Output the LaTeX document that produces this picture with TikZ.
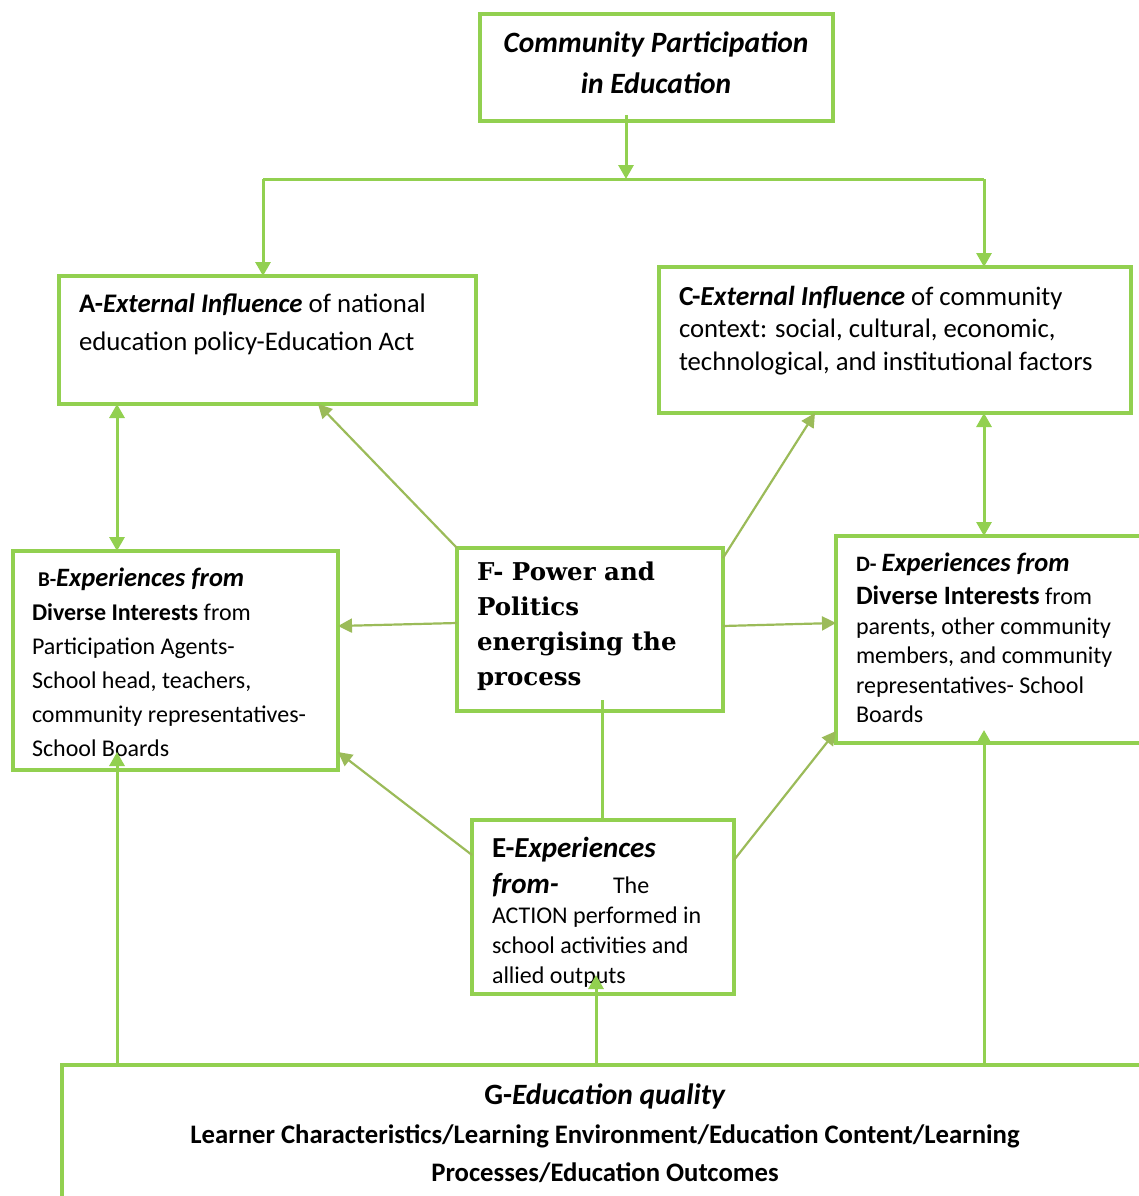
\documentclass[tikz,border=0pt]{standalone}
\usepackage{fontspec}
\setmainfont{Carlito}
\newfontfamily\serifF{DejaVu Serif}
\usetikzlibrary{arrows.meta}
\definecolor{boxgreen}{RGB}{146,208,80}
\definecolor{olive}{RGB}{155,187,89}
\tikzset{
  box/.style={draw=boxgreen, line width=3.4pt, anchor=north west, outer sep=0pt, inner sep=0pt},
  txt/.style={inner sep=0pt, outer sep=0pt, align=left, anchor=north west},
  conn/.style={draw=boxgreen, line width=3pt},
  arr/.style={conn, -{Triangle[width=15pt,length=14pt]}},
  darr/.style={conn, {Triangle[width=15pt,length=14pt]}-{Triangle[width=15pt,length=14pt]}},
  oarr/.style={draw=olive, line width=2.2pt, -{Triangle[width=14pt,length=14pt]}},
}
\begin{document}
\begin{tikzpicture}[x=1pt,y=-1pt]
\useasboundingbox (0,0) rectangle (1139,1196);
\clip (0,0) rectangle (1139,1196);
% boxes
\node[box, minimum width=353pt, minimum height=107pt] (T) at (480,14) {};
\node[box, minimum width=417pt, minimum height=128pt] (A) at (59,276) {};
\node[box, minimum width=472pt, minimum height=146pt] (C) at (659,267) {};
\node[box, minimum width=325pt, minimum height=219pt] (B) at (13,551) {};
\node[box, minimum width=266pt, minimum height=163pt] (F) at (457,548) {};
\node[box, minimum width=360pt, minimum height=207pt] (D) at (836,536) {};
\node[box, minimum width=262pt, minimum height=174pt] (E) at (472,820) {};
\node[box, minimum width=1150pt, minimum height=200pt] (G) at (62,1065) {};
% texts
\node[txt, anchor=north, align=center, font=\fontsize{29.5}{41}\selectfont\bfseries\itshape] (tT) at (656,32) {Community Participation\\in Education};
\node[txt, font=\fontsize{26.8}{38}\selectfont] (tA) at (79,293.5) {\textbf{A-\textit{External Influence}} of national\\education policy-Education Act};
\node[txt, font=\fontsize{26.7}{32.5}\selectfont] (tC) at (679,286) {{\fontsize{27.5}{32.5}\selectfont\textbf{C-\textit{External Influence}}} of community\\context: social, cultural, economic,\\technological, and institutional factors};
\node[txt, font=\fontsize{24}{34}\selectfont] (tB) at (32,568) {\hspace*{6pt}{\fontsize{21}{34}\selectfont\textbf{B-}}{\fontsize{26.5}{34}\selectfont\textbf{\textit{Experiences from}}}\\\textbf{Diverse Interests} from\\Participation Agents-\\School head, teachers,\\community representatives-\\School Boards};
\node[txt, font=\fontsize{24}{29.5}\selectfont] (tD) at (856,553) {{\fontsize{22}{29.5}\selectfont\textbf{D-} }{\fontsize{26.5}{29.5}\selectfont\textbf{\textit{Experiences from}}}\\[3.5pt]{\fontsize{26.5}{29.5}\selectfont\textbf{Diverse Interests}} from\\parents, other community\\members, and community\\representatives- School\\Boards};
\node[txt, font=\fontsize{24.5}{35}\selectfont\serifF\bfseries] (tF) at (477,562) {F- Power and\\Politics\\energising the\\process};
\node[txt, font=\fontsize{24}{30}\selectfont] (tE) at (492,837) {{\fontsize{29}{36}\selectfont\textbf{E-\textit{Experiences}}}\\[6pt]\makebox[121pt][l]{\fontsize{29}{36}\selectfont\textbf{\textit{from-}}}The\\ACTION performed in\\school activities and\\allied outputs};
\node[txt, anchor=north, align=center, font=\fontsize{29.5}{39}\selectfont\bfseries] (tG) at (605,1083.5) {G-\textit{Education quality}\\{\fontsize{26.7}{38}\selectfont Learner Characteristics/Learning Environment/Education Content/Learning}\\[-1pt]{\fontsize{26.7}{38}\selectfont Processes/Education Outcomes}};
% connectors
\coordinate (j) at (626,179);
\coordinate (jl) at (263,179);
\coordinate (jr) at (984,179);
\draw[arr] ([xshift=-30.5pt,yshift=6pt]T.south) -- (j);
\draw[conn] (jl) -- (jr);
\draw[arr] (jl) -- (jl |- A.north);
\draw[arr] (jr) -- (jr |- C.north);
\coordinate (xab) at (117,0);
\draw[darr] (xab |- A.south) -- (xab |- B.north);
\coordinate (xcd) at (984,0);
\draw[darr] (xcd |- C.south) -- (xcd |- D.north);
\draw[oarr] (F.north west) -- ([xshift=259pt]A.south west);
\draw[oarr] ([yshift=-10pt]F.north east) -- ([xshift=156pt]C.south west);
\draw[oarr] ([yshift=-75pt]F.north west) -- ([yshift=-75pt]B.north east);
\draw[oarr] ([yshift=-78pt]F.north east) -- ([yshift=-87pt]D.north west);
\draw[oarr] ([yshift=-35pt]E.north west) -- ([yshift=18pt]B.south east);
\draw[oarr] ([yshift=-40pt]E.north east) -- ([yshift=12pt]D.south west);
\draw[conn] ([xshift=12pt,yshift=11pt]F.south) -- ([xshift=-1pt]E.north);
\coordinate (xgb) at (117,0);
\coordinate (xge) at (596,0);
\coordinate (xgd) at (984,0);
\draw[arr] (xgb |- G.north) -- ([yshift=18pt]xgb |- B.south);
\draw[arr] (xge |- G.north) -- ([yshift=19pt]xge |- E.south);
\draw[arr] (xgd |- G.north) -- ([yshift=13pt]xgd |- D.south);
\end{tikzpicture}
\end{document}
